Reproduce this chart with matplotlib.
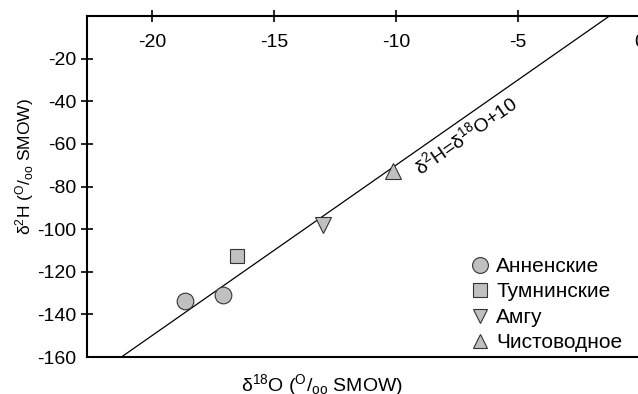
import numpy as np
import matplotlib
matplotlib.use('Agg')
import matplotlib.pyplot as plt

plt.rcParams['font.family'] = ['Liberation Sans', 'DejaVu Sans']
plt.rcParams['mathtext.fontset'] = 'custom'
plt.rcParams['mathtext.rm'] = 'Liberation Sans'
plt.rcParams['mathtext.it'] = 'Liberation Sans:italic'
plt.rcParams['axes.unicode_minus'] = False

# data
groups = ['Анненские', 'Тумнинские', 'Амгу', 'Чистоводное']
markers = ['o', 's', 'v', '^']
msizes = [12, 10, 11, 11]
d18o = [[-18.65, -17.1], [-16.5], [-13.0], [-10.1]]
d2h = [[-133.5, -131.0], [-112.5], [-98.0], [-72.5]]

# meteoric water line d2H = 8*d18O + 10
mwl_slope = 8
mwl_int = 10
mwl_x = np.array([-25.0, 2.0])

xticks = [-20, -15, -10, -5, 0]
yticks = [-160, -140, -120, -100, -80, -60, -40, -20]

fig = plt.figure(figsize=(6.38, 3.94), dpi=100)
ax = fig.add_axes([87/638, 37/394, (658-87)/638, 341/394])

ax.plot(mwl_x, mwl_slope*mwl_x + mwl_int, color='black', lw=0.9, zorder=1)

for g, m, s, xs, ys in zip(groups, markers, msizes, d18o, d2h):
    ax.plot(xs, ys, ls='None', marker=m, ms=s, mfc='#c0c0c0', mec='#333333',
            mew=0.8, label=g, zorder=3)

ax.set_xlim(-22.66, 0.74)
ax.set_ylim(-160, 0)
ax.set_xticks(xticks)
ax.set_yticks(yticks)

for sp in ['top', 'left', 'bottom']:
    ax.spines[sp].set_linewidth(1.5)
ax.spines['right'].set_visible(False)

ax.tick_params(axis='x', top=True, bottom=False, labeltop=True, labelbottom=False,
               direction='inout', length=9, width=1.2, pad=-29.5, labelsize=14)
ax.tick_params(axis='y', direction='inout', length=8, width=1.2, pad=3.5, labelsize=14)
ax.yaxis.get_major_ticks()[0].tick1line.set_visible(False)

ax.text(-7.15, -55.8, 'δ$^{2}$H=δ$^{18}$O+10', fontsize=14, rotation=35,
        rotation_mode='anchor', ha='center', va='center')

fig.text(322/638, 1-385/394, 'δ$^{18}$O ($^{\\rm O}$/$_{\\rm oo}$ SMOW)', fontsize=14,
         ha='center', va='center')
fig.text(25/638, 1-167/394, 'δ$^{2}$H ($^{\\rm O}$/$_{\\rm oo}$ SMOW)', fontsize=12.5,
         ha='center', va='center', rotation=90)

ax.legend(loc='upper left', bbox_to_anchor=(470/638, 1-257/394),
          bbox_transform=fig.transFigure, frameon=False, fontsize=15,
          handlelength=1, handletextpad=0.25, labelspacing=0.31,
          borderpad=0, borderaxespad=0, markerscale=0.95)

fig.savefig('out.png', dpi=100)
